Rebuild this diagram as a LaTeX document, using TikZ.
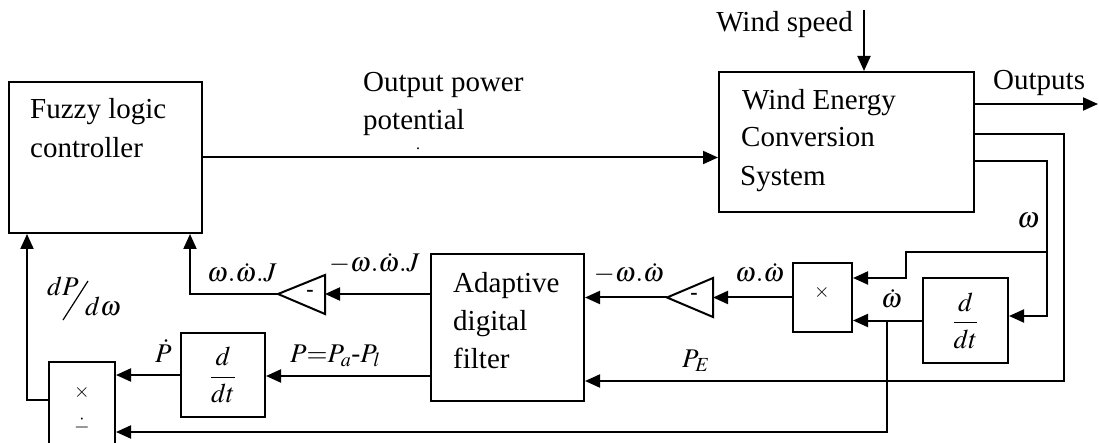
\documentclass[tikz,border=0pt]{standalone}
\usepackage{mathptmx}
\usepackage{fontspec}
\setmainfont{Liberation Serif}
\usetikzlibrary{arrows.meta,calc}
\begin{document}
\begin{tikzpicture}[x=1pt,y=-1pt,
  ln/.style={line width=2pt},
  blk/.style={draw,line width=2pt,inner sep=0pt},
  arr/.style={line width=2pt,-{Triangle[length=15pt,width=13pt]}},
  txt/.style={inner sep=0pt,anchor=base west,font=\fontsize{29}{34}\selectfont},
  mlab/.style={inner sep=0pt,anchor=base west,font=\fontsize{27}{32}\selectfont},
  frc/.style={font=\fontsize{27}{30}\selectfont},
  sgn/.style={inner sep=0pt,font=\fontsize{20}{20}\selectfont},
]
\useasboundingbox (0,0) rectangle (1099,443);
\clip (0,0) rectangle (1099,443);

% blocks
\node[blk,minimum width=193pt,minimum height=151pt] (fuzzy) at (105.5,157.5) {};
\node[blk,minimum width=255pt,minimum height=140pt] (wecs) at (846.5,142) {};
\node[blk,minimum width=153pt,minimum height=147pt] (adf) at (507.5,327.5) {};
\node[blk,minimum width=59pt,minimum height=69pt] (mult) at (822.5,297.5) {};
\node[blk,frc,minimum width=85pt,minimum height=85pt] (ddt1) at (965.5,320.5) {$\displaystyle\frac{d}{dt}$};
\node[blk,frc,minimum width=84pt,minimum height=84pt] (ddt2) at (223,375) {$\displaystyle\frac{d}{dt}$};
\node[blk,minimum width=66pt,minimum height=90pt] (md) at (82,407) {};

% block texts
\node[txt] (fz1) at (30,119) {Fuzzy logic};
\node[txt] (fz2) at (30,158) {controller};
\node[txt] (we1) at (742,110) {Wind Energy};
\node[txt] (we2) at (741,147) {Conversion};
\node[txt] (we3) at (740,186) {System};
\node[txt] (ad1) at (453,292) {Adaptive};
\node[txt] (ad2) at (453,330) {digital};
\node[txt] (ad3) at (453,368) {filter};
\node[sgn] (mx) at (822,293) {$\times$};
\node[sgn] (mdx) at (82,392) {$\times$};
\node[sgn] (mdd) at (82,426) {$\dot{-}$};

% gains (triangles)
\coordinate (g1a) at (667,297.5);
\coordinate (g1r) at (713,297.5);
\draw[ln,line join=miter] (g1a) -- (713,278) -- (713,317) -- cycle;
\node[sgn,font=\bfseries\fontsize{22}{22}\selectfont] (g1m) at (694,296) {-};
\coordinate (g2a) at (278,294);
\coordinate (g2r) at (325,294);
\draw[ln,line join=miter] (g2a) -- (325,275) -- (325,314) -- cycle;
\node[sgn,font=\bfseries\fontsize{22}{22}\selectfont] (g2m) at (310,293) {-};

% connectors
\draw[arr] (fuzzy.east) -- (fuzzy.east -| wecs.west);
\coordinate (ws) at (864,10);
\draw[arr] (ws) -- (ws |- wecs.north);
\coordinate (o1) at (1098,104);
\draw[arr] (o1 -| wecs.east) -- (o1);

\coordinate (p1) at (1064,134);
\coordinate (p2) at (1064,381);
\draw[arr] (p1 -| wecs.east) -- (p1) -- (p2) -- (p2 -| adf.east);

\coordinate (w1) at (1047,161);
\coordinate (w2) at (1047,252);
\coordinate (w3) at (906,252);
\coordinate (w4) at (906,278);
\coordinate (w5) at (1047,316);
\draw[arr] (w1 -| wecs.east) -- (w1) -- (w5) -- (w5 -| ddt1.east);
\draw[arr] (w2) -- (w3) -- (w4) -- (w4 -| mult.east);

\draw[arr] (ddt1.west) -- (ddt1.west -| mult.east);
\coordinate (d1) at (887,320.5);
\coordinate (d2) at (887,432);
\draw[arr] (d1) -- (d2) -- (d2 -| md.east);

\draw[arr] (mult.west) -- (g1r);
\draw[arr] (g1a) -- (g1a -| adf.east);
\coordinate (a1) at (431,294);
\draw[arr] (a1) -- (g2r);
\coordinate (f1) at (190,294);
\draw[arr] (g2a) -- (f1) -- (f1 |- fuzzy.south);
\coordinate (a2) at (431,376);
\draw[arr] (a2) -- (a2 -| ddt2.east);
\draw[arr] (ddt2.west) -- (ddt2.west -| md.east);
\coordinate (m1) at (27,400);
\draw[arr] (m1 -| md.west) -- (m1) -- (m1 |- fuzzy.south);

% labels
\node[txt] (op1) at (363,92) {Output power};
\node[txt] (op2) at (363,130) {potential};
\node[txt,font=\fontsize{16}{16}\selectfont] (opd) at (416,150) {.};
\node[txt,anchor=base east] (wsl) at (853,32) {Wind speed};
\node[txt] (outl) at (993,90) {Outputs};
\node[txt] (lw) at (1017,228) {$\omega$};
\node[mlab] (lwd) at (881,308) {$\dot\omega$};
\node[mlab] (lww) at (735,282) {$\omega.\dot\omega$};
\node[mlab,anchor=base east] (lmww) at (664,282) {$-\omega.\dot\omega$};
\node[mlab,anchor=base east] (lmwwj) at (420,272) {$-\omega.\dot\omega.J$};
\node[mlab] (lwwj) at (207,282) {$\omega.\dot\omega.J$};
\node[mlab] (lpe) at (682,367) {$P_E$};
\node[mlab] (lp) at (290,362) {$P{=}P_a$-$P_l$};
\node[mlab] (lpd) at (155,362) {$\dot P$};
\node[mlab] (ldp) at (47,295) {$dP$};
\draw[line width=1.2pt] (88,281) -- (63,320);
\node[mlab] (ldw) at (85,315) {$d\omega$};
\end{tikzpicture}
\end{document}
